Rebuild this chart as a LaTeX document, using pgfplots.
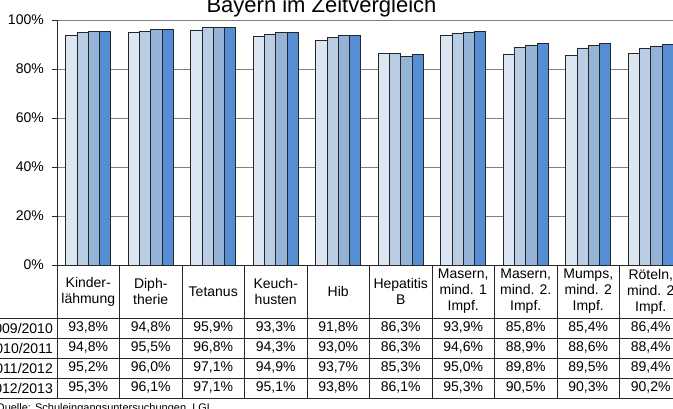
\documentclass[border=0pt]{standalone}
\usepackage{fontspec}
\setmainfont{Liberation Sans}
\usepackage{pgfplots}
\pgfplotsset{compat=1.18}
\definecolor{cA}{HTML}{DCE6F2}
\definecolor{cB}{HTML}{B9CDE5}
\definecolor{cC}{HTML}{95B3D7}
\definecolor{cD}{HTML}{558ED5}
\definecolor{gridgray}{HTML}{7F7F7F}
\pgfkeys{/pgf/number format/assume math mode=true}
\begin{document}
\begin{tikzpicture}[x=1pt,y=1pt]
\useasboundingbox (0,0) rectangle (673,408);
\clip (0,0) rectangle (673,408);
\begin{axis}[
  at={(57pt,143pt)}, anchor=south west, scale only axis,
  width=625pt, height=245pt,
  xmin=-0.5, xmax=9.5, ymin=0, ymax=100,
  ybar=0pt, bar width=11.25pt,
  xtick=\empty,
  ytick={0,20,40,60,80,100},
  yticklabel={\pgfmathprintnumber{\tick}\%},
  yticklabel style={font=\fontsize{14}{16}\selectfont, anchor=east, inner sep=0pt, xshift=-8pt},
  ymajorgrids,
  grid style={draw=gridgray, line width=0.9pt},
  axis x line*=bottom, axis y line*=left,
  axis line style={-, draw=black!85, line width=0.9pt},
  tick align=outside, major tick length=5pt,
  ytick style={draw=black!85, line width=0.9pt},
  every axis plot/.append style={draw=black!85, line width=0.8pt},
  /pgf/number format/assume math mode=true,
]
\addplot[fill=cA] coordinates {(0,93.8) (1,94.8) (2,95.9) (3,93.3) (4,91.8) (5,86.3) (6,93.9) (7,85.8) (8,85.4) (9,86.4)};
\addplot[fill=cB] coordinates {(0,94.8) (1,95.5) (2,96.8) (3,94.3) (4,93.0) (5,86.3) (6,94.6) (7,88.9) (8,88.6) (9,88.4)};
\addplot[fill=cC] coordinates {(0,95.2) (1,96.0) (2,97.1) (3,94.9) (4,93.7) (5,85.3) (6,95.0) (7,89.8) (8,89.5) (9,89.4)};
\addplot[fill=cD] coordinates {(0,95.3) (1,96.1) (2,97.1) (3,95.1) (4,93.8) (5,86.1) (6,95.3) (7,90.5) (8,90.3) (9,90.2)};
\end{axis}
% title
\node[anchor=base, inner sep=0pt, font=\fontsize{22}{26}\selectfont] at (321.5,395) {Bayern im Zeitvergleich};
% table lines
\foreach \k in {0,...,10} {\draw[black!85, line width=0.8pt] ({57+62.5*\k},143) -- ({57+62.5*\k},10);}
\foreach \yy in {90,70,50,30,10} {\draw[black!85, line width=0.8pt] (0,\yy) -- (682,\yy);}
% header
\begin{scope}[every node/.style={align=center, inner sep=0pt, font=\fontsize{14}{16}\selectfont}]
\node at (88.25,116.5) {Kinder-\\lähmung};
\node at (150.75,116.5) {Diph-\\therie};
\node at (213.25,116.5) {Tetanus};
\node at (275.75,116.5) {Keuch-\\husten};
\node at (338.25,116.5) {Hib};
\node at (400.75,116.5) {Hepatitis\\B};
\node at (463.25,116.5) {Masern,\\mind. 1\\Impf.};
\node at (525.75,116.5) {Masern,\\mind. 2.\\Impf.};
\node at (588.25,116.5) {Mumps,\\mind. 2\\Impf.};
\node at (650.75,116.5) {Röteln,\\mind. 2\\Impf.};
\end{scope}
% row labels
\begin{scope}[every node/.style={anchor=east, inner sep=0pt, font=\fontsize{14}{16}\selectfont}]
\node at (53,80) {2009/2010};
\node at (53,60) {2010/2011};
\node at (53,40) {2011/2012};
\node at (53,20) {2012/2013};
\end{scope}
% values
\begin{scope}[every node/.style={inner sep=0pt, font=\fontsize{14}{16}\selectfont}]
\foreach \v [count=\i from 0] in {93.8,94.8,95.9,93.3,91.8,86.3,93.9,85.8,85.4,86.4}
  {\node at ({88.25+62.5*\i},80) {\pgfmathprintnumber[fixed,fixed zerofill,precision=1,use comma]{\v}\%};}
\foreach \v [count=\i from 0] in {94.8,95.5,96.8,94.3,93.0,86.3,94.6,88.9,88.6,88.4}
  {\node at ({88.25+62.5*\i},60) {\pgfmathprintnumber[fixed,fixed zerofill,precision=1,use comma]{\v}\%};}
\foreach \v [count=\i from 0] in {95.2,96.0,97.1,94.9,93.7,85.3,95.0,89.8,89.5,89.4}
  {\node at ({88.25+62.5*\i},40) {\pgfmathprintnumber[fixed,fixed zerofill,precision=1,use comma]{\v}\%};}
\foreach \v [count=\i from 0] in {95.3,96.1,97.1,95.1,93.8,86.1,95.3,90.5,90.3,90.2}
  {\node at ({88.25+62.5*\i},20) {\pgfmathprintnumber[fixed,fixed zerofill,precision=1,use comma]{\v}\%};}
\end{scope}
% source
\node[anchor=base west, inner sep=0pt, font=\fontsize{11}{13}\selectfont] at (-4,-3) {Quelle: Schuleingangsuntersuchungen, LGL};
\end{tikzpicture}
\end{document}
